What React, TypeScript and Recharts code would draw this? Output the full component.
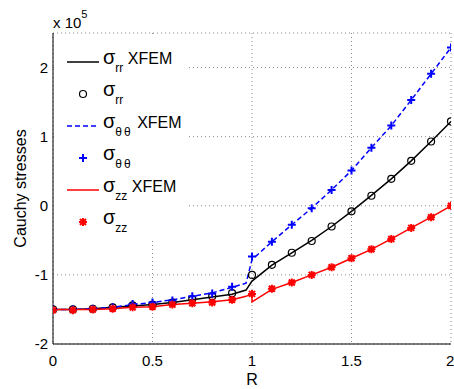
import React from 'react';
import { LineChart, Line, XAxis, YAxis, CartesianGrid } from 'recharts';

// marker samples (x 10^5)
const markX = [0, 0.1, 0.2, 0.3, 0.4, 0.5, 0.6, 0.7, 0.8, 0.9, 1.0, 1.1, 1.2, 1.3, 1.4, 1.5, 1.6, 1.7, 1.8, 1.9, 2.0];
const rrMarks = [-1.5, -1.5, -1.49, -1.47, -1.44, -1.43, -1.4, -1.35, -1.31, -1.265, -1.0, -0.855, -0.68, -0.51, -0.3, -0.08, 0.145, 0.39, 0.65, 0.93, 1.22];
const ttMarks = [-1.5, -1.5, -1.49, -1.47, -1.42, -1.4, -1.37, -1.31, -1.27, -1.17, -0.735, -0.52, -0.275, -0.035, 0.23, 0.51, 0.84, 1.16, 1.53, 1.91, 2.29];
const zzMarks = [-1.51, -1.51, -1.5, -1.49, -1.47, -1.46, -1.43, -1.41, -1.4, -1.36, -1.275, -1.2, -1.11, -1.0, -0.89, -0.76, -0.63, -0.48, -0.32, -0.165, 0.0];

// XFEM curves (jump at the interface R = 1)
const lineX = [0, 0.1, 0.2, 0.3, 0.4, 0.5, 0.6, 0.7, 0.8, 0.9, 0.97, 1.0, 1.0, 1.1, 1.2, 1.3, 1.4, 1.5, 1.6, 1.7, 1.8, 1.9, 2.0];
const rrLine = [-1.5, -1.5, -1.49, -1.47, -1.45, -1.43, -1.4, -1.36, -1.32, -1.28, -1.22, -1.09, -1.09, -0.86, -0.68, -0.5, -0.3, -0.08, 0.15, 0.39, 0.65, 0.93, 1.22];
const ttLine = [-1.5, -1.5, -1.49, -1.47, -1.43, -1.4, -1.36, -1.31, -1.26, -1.18, -1.12, -0.78, -0.78, -0.52, -0.275, -0.035, 0.23, 0.51, 0.84, 1.16, 1.53, 1.91, 2.29];
const zzLine = [-1.5, -1.5, -1.5, -1.49, -1.47, -1.46, -1.43, -1.41, -1.39, -1.36, -1.31, -1.27, -1.39, -1.21, -1.11, -1.0, -0.89, -0.76, -0.63, -0.48, -0.32, -0.165, 0.0];

const xTicks = [0, 0.5, 1, 1.5, 2];
const yTicks = [-2, -1, 0, 1, 2];

const toRows = (xs: number[], ys: number[]) => xs.map((x, i) => ({ x, y: ys[i] }));

const FONT = '"Liberation Sans", Arial, sans-serif';
const blank = () => '';

const circleDot = (p: any) => (
  <circle key={`c${p.index}`} cx={p.cx} cy={p.cy} r={3.5} fill="none" stroke="#000" strokeWidth={1.2} />
);
const plusDot = (p: any) => (
  <path key={`p${p.index}`} d={`M${p.cx - 4},${p.cy}h8M${p.cx},${p.cy - 4}v8`} stroke="#0000ff" strokeWidth={2} fill="none" />
);
const starDot = (p: any) => (
  <path
    key={`s${p.index}`}
    d={`M${p.cx - 4},${p.cy}h8M${p.cx},${p.cy - 4}v8M${p.cx - 3},${p.cy - 3}l6,6M${p.cx - 3},${p.cy + 3}l6,-6`}
    stroke="#ff0000"
    strokeWidth={2}
    fill="none"
  />
);

const Legend = () => {
  const rows = [
    { sub: 'rr', xfem: true, color: '#000', dash: undefined as string | undefined },
    { sub: 'rr', xfem: false, marker: 'o' },
    { sub: 'θθ', xfem: true, color: '#0000ff', dash: '5 3' },
    { sub: 'θθ', xfem: false, marker: '+' },
    { sub: 'zz', xfem: true, color: '#ff0000', dash: undefined },
    { sub: 'zz', xfem: false, marker: '*' },
  ];
  return (
    <svg width={454} height={389} style={{ position: 'absolute', left: 0, top: 0, pointerEvents: 'none' }}>
      <rect x={54} y={34} width={133} height={204} fill="#fff" />
      {rows.map((r: any, i) => {
        const y = 62 + i * 32;
        let sample: React.ReactNode = null;
        if (r.xfem) {
          sample = <line x1={67} x2={99} y1={y} y2={y} stroke={r.color} strokeWidth={1.5} strokeDasharray={r.dash} />;
        } else if (r.marker === 'o') {
          sample = circleDot({ cx: 83, cy: y, index: 'l' });
        } else if (r.marker === '+') {
          sample = plusDot({ cx: 83, cy: y, index: 'l' });
        } else {
          sample = starDot({ cx: 83, cy: y, index: 'l' });
        }
        return (
          <g key={i}>
            {sample}
            <text x={103} y={y + 2} fontFamily={FONT} fontSize={16} fill="#000">
              <tspan fontSize={20}>σ</tspan>
              <tspan dy={8} fontSize={12} letterSpacing={r.sub === 'θθ' ? 2 : 0}>{r.sub}</tspan>
              {r.xfem ? <tspan dy={-8}> XFEM</tspan> : null}
            </text>
          </g>
        );
      })}
      <text x={53} y={28} fontFamily={FONT} fontSize={15} fill="#000">
        x 10<tspan dy={-10} fontSize={11}>5</tspan>
      </text>
    </svg>
  );
};

export default function App() {
  return (
    <div style={{ position: 'absolute', left: 0, top: 0, width: 454, height: 389, background: '#fff' }}>
      <LineChart width={454} height={389} margin={{ top: 33, right: 3, bottom: 0, left: 0 }}>
        <CartesianGrid stroke="#888" strokeDasharray="1 3" xAxisId="x" yAxisId="y" />
        <XAxis
          xAxisId="x"
          dataKey="x"
          type="number"
          domain={[0, 2]}
          ticks={xTicks}
          allowDataOverflow
          height={45}
          tickLine={false}
          tickSize={0}
          tickMargin={11}
          axisLine={{ stroke: '#000' }}
          tick={{ fill: '#000', fontSize: 15, fontFamily: FONT }}
          label={{ value: 'R', position: 'insideBottom', offset: 4, fill: '#000', fontSize: 16, fontFamily: FONT }}
        />
        <XAxis xAxisId="xb" type="number" domain={[0, 2]} ticks={xTicks} allowDataOverflow mirror height={0} tickSize={5} axisLine={false} tickLine={{ stroke: '#000' }} tickFormatter={blank} />
        <XAxis xAxisId="xt" orientation="top" type="number" domain={[0, 2]} ticks={xTicks} allowDataOverflow mirror height={0} tickSize={5} axisLine={{ stroke: '#000' }} tickLine={{ stroke: '#000' }} tickFormatter={blank} />
        <YAxis
          yAxisId="y"
          type="number"
          domain={[-2, 2.5]}
          ticks={yTicks}
          allowDataOverflow
          width={53}
          tickLine={false}
          tickSize={0}
          tickMargin={5}
          axisLine={{ stroke: '#000' }}
          tick={{ fill: '#000', fontSize: 15, fontFamily: FONT }}
          label={{ value: 'Cauchy stresses', angle: -90, position: 'insideLeft', offset: 20, fill: '#000', fontSize: 16, fontFamily: FONT, style: { textAnchor: 'middle' } }}
        />
        <YAxis yAxisId="yl" type="number" domain={[-2, 2.5]} ticks={yTicks} allowDataOverflow mirror width={0} tickSize={5} axisLine={false} tickLine={{ stroke: '#000' }} tickFormatter={blank} />
        <YAxis yAxisId="yr" orientation="right" type="number" domain={[-2, 2.5]} ticks={yTicks} allowDataOverflow mirror width={0} tickSize={5} axisLine={{ stroke: '#000' }} tickLine={{ stroke: '#000' }} tickFormatter={blank} />

        <Line xAxisId="x" yAxisId="y" data={toRows(lineX, rrLine)} dataKey="y" type="linear" stroke="#000" strokeWidth={1.5} dot={false} activeDot={false} isAnimationActive={false} />
        <Line xAxisId="x" yAxisId="y" data={toRows(markX, rrMarks)} dataKey="y" stroke="none" dot={circleDot} activeDot={false} isAnimationActive={false} />
        <Line xAxisId="x" yAxisId="y" data={toRows(lineX, ttLine)} dataKey="y" type="linear" stroke="#0000ff" strokeWidth={1.5} strokeDasharray="5 3" dot={false} activeDot={false} isAnimationActive={false} />
        <Line xAxisId="x" yAxisId="y" data={toRows(markX, ttMarks)} dataKey="y" stroke="none" dot={plusDot} activeDot={false} isAnimationActive={false} />
        <Line xAxisId="x" yAxisId="y" data={toRows(lineX, zzLine)} dataKey="y" type="linear" stroke="#ff0000" strokeWidth={1.5} dot={false} activeDot={false} isAnimationActive={false} />
        <Line xAxisId="x" yAxisId="y" data={toRows(markX, zzMarks)} dataKey="y" stroke="none" dot={starDot} activeDot={false} isAnimationActive={false} />
      </LineChart>
      <Legend />
    </div>
  );
}
